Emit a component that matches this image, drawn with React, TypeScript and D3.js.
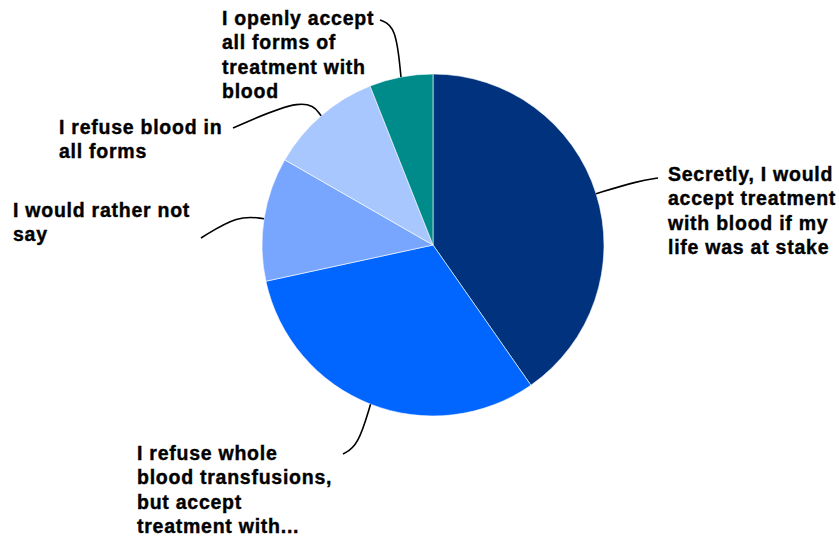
import React from 'react';
import * as d3 from 'd3';

// answers, clockwise from 12 o'clock
const labels = [
  'Secretly, I would accept treatment with blood if my life was at stake',
  'I refuse whole blood transfusions, but accept treatment with...',
  'I would rather not say',
  'I refuse blood in all forms',
  'I openly accept all forms of treatment with blood',
];
const values = [40.3, 31.3, 11.7, 10.7, 6.0];
const colors = ['#00327d', '#0066ff', '#78a6ff', '#a9c7ff', '#008b8b'];

// wrapped label lines as shown in the chart
const labelLines = [
  ['Secretly, I would', 'accept treatment', 'with blood if my', 'life was at stake'],
  ['I refuse whole', 'blood transfusions,', 'but accept', 'treatment with...'],
  ['I would rather not', 'say'],
  ['I refuse blood in', 'all forms'],
  ['I openly accept', 'all forms of', 'treatment with', 'blood'],
];

// label placement: text x, first baseline y, leader elbow and end
const labelPos = [
  { x: 668, y: 181, elbow: [638, 181], end: [658, 178] },
  { x: 137, y: 460, elbow: [358, 446], end: [343, 454] },
  { x: 13, y: 217, elbow: [238, 215], end: [201, 238] },
  { x: 59, y: 134, elbow: [306, 96], end: [233, 128] },
  { x: 222, y: 25, elbow: [396, 26], end: [380, 20] },
];

const width = 839;
const height = 542;
const cx = 433;
const cy = 245;
const radius = 171;

const App = () => {
  const pie = d3.pie<number>().sort(null).value(d => d);
  const arcs = pie(values);
  const arc = d3.arc<d3.PieArcDatum<number>>().innerRadius(0).outerRadius(radius);
  const leader = d3.line().curve(d3.curveBasis);

  return (
    <svg
      width={width}
      height={height}
      style={{ position: 'absolute', left: 0, top: 0 }}
      fontFamily="'Liberation Sans', Arial, sans-serif"
    >
      <g transform={`translate(${cx}, ${cy})`}>
        {arcs.map((d, i) => (
          <path key={labels[i]} d={arc(d) || ''} fill={colors[i]} stroke="#fff" strokeWidth={0.6} />
        ))}
      </g>
      {arcs.map((d, i) => {
        const mid = (d.startAngle + d.endAngle) / 2;
        const ax = cx + radius * Math.sin(mid);
        const ay = cy - radius * Math.cos(mid);
        const p = labelPos[i];
        return (
          <g key={`lbl-${i}`}>
            <path
              d={leader([[ax, ay], p.elbow as [number, number], p.end as [number, number]]) || ''}
              fill="none"
              stroke="#000"
              strokeWidth={1.6}
            />
            <text
              x={p.x}
              y={p.y}
              fontSize={19.5}
              fontWeight="bold"
              letterSpacing={0.75}
              fill="#000"
              stroke="#000"
              strokeWidth={0.4}
            >
              {labelLines[i].map((line, j) => (
                <tspan key={j} x={p.x} dy={j === 0 ? 0 : 24.3}>{line}</tspan>
              ))}
            </text>
          </g>
        );
      })}
    </svg>
  );
};

export default App;
